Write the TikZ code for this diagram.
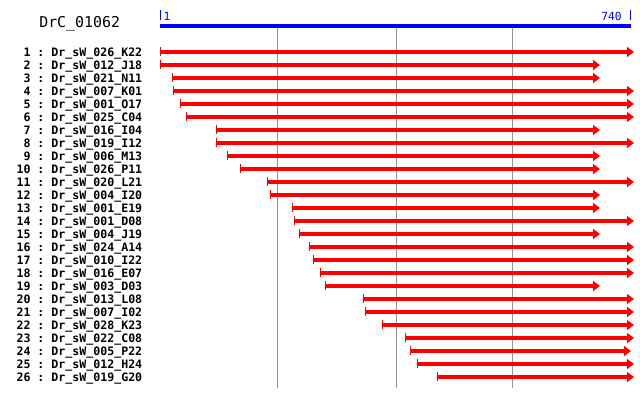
\documentclass[tikz,border=0pt]{standalone}
\usepackage{fontspec}
\setmonofont{DejaVu Sans Mono}
\usetikzlibrary{arrows.meta}

\begin{document}
\begin{tikzpicture}[x=0.75pt,y=-0.75pt,
		lbl/.style={anchor=base east,inner sep=0pt,font=\ttfamily\bfseries\fontsize{8.7pt}{9pt}\selectfont},
		ttl/.style={anchor=base west,inner sep=0pt,font=\ttfamily\fontsize{11.2pt}{12pt}\selectfont},
		scl/.style={anchor=base,inner sep=0pt,text=blue,font=\ttfamily\fontsize{8.4pt}{9pt}\selectfont},
		clone/.style={draw=red,line width=3pt,{Bar[width=6.75pt,line width=0.75pt]}-{Triangle[length=5.25pt,width=7.5pt]}},
		grid/.style={draw=black!42,line width=0.75pt}]
	\useasboundingbox (0,0) rectangle (640,398);
	%% define title and scale
	\node (title) at (39,28) [ttl] {DrC\_01062};
	\node (one) at (167,20.5) [scl] {1};
	\node (last) at (611.5,20.5) [scl] {740};
	\draw[blue,line width=0.75pt] (160.5,10) -- (160.5,20.5);
	\draw[blue,line width=0.75pt] (630.5,10) -- (630.5,20.5);
	\draw[blue,line width=3pt] (160,26.5) -- (631,26.5);
	%% grid lines
	\draw[grid] (277,28.5) -- (277,388);
	\draw[grid] (396,28.5) -- (396,388);
	\draw[grid] (512,28.5) -- (512,388);
	%% define labels
	\node (n1) at (142.5,56.5) [lbl] {1 : Dr\_sW\_026\_K22};
	\node (n2) at (142.5,69.5) [lbl] {2 : Dr\_sW\_012\_J18};
	\node (n3) at (142.5,82.5) [lbl] {3 : Dr\_sW\_021\_N11};
	\node (n4) at (142.5,95.5) [lbl] {4 : Dr\_sW\_007\_K01};
	\node (n5) at (142.5,108.5) [lbl] {5 : Dr\_sW\_001\_O17};
	\node (n6) at (142.5,121.5) [lbl] {6 : Dr\_sW\_025\_C04};
	\node (n7) at (142.5,134.5) [lbl] {7 : Dr\_sW\_016\_I04};
	\node (n8) at (142.5,147.5) [lbl] {8 : Dr\_sW\_019\_I12};
	\node (n9) at (142.5,160.5) [lbl] {9 : Dr\_sW\_006\_M13};
	\node (n10) at (142.5,173.5) [lbl] {10 : Dr\_sW\_026\_P11};
	\node (n11) at (142.5,186.5) [lbl] {11 : Dr\_sW\_020\_L21};
	\node (n12) at (142.5,199.5) [lbl] {12 : Dr\_sW\_004\_I20};
	\node (n13) at (142.5,212.5) [lbl] {13 : Dr\_sW\_001\_E19};
	\node (n14) at (142.5,225.5) [lbl] {14 : Dr\_sW\_001\_D08};
	\node (n15) at (142.5,238.5) [lbl] {15 : Dr\_sW\_004\_J19};
	\node (n16) at (142.5,251.5) [lbl] {16 : Dr\_sW\_024\_A14};
	\node (n17) at (142.5,264.5) [lbl] {17 : Dr\_sW\_010\_I22};
	\node (n18) at (142.5,277.5) [lbl] {18 : Dr\_sW\_016\_E07};
	\node (n19) at (142.5,290.5) [lbl] {19 : Dr\_sW\_003\_D03};
	\node (n20) at (142.5,303.5) [lbl] {20 : Dr\_sW\_013\_L08};
	\node (n21) at (142.5,316.5) [lbl] {21 : Dr\_sW\_007\_I02};
	\node (n22) at (142.5,329.5) [lbl] {22 : Dr\_sW\_028\_K23};
	\node (n23) at (142.5,342.5) [lbl] {23 : Dr\_sW\_022\_C08};
	\node (n24) at (142.5,355.5) [lbl] {24 : Dr\_sW\_005\_P22};
	\node (n25) at (142.5,368.5) [lbl] {25 : Dr\_sW\_012\_H24};
	\node (n26) at (142.5,381.5) [lbl] {26 : Dr\_sW\_019\_G20};
	%% define clones
	\draw[clone] (160,52) -- (634,52);
	\draw[clone] (160,65) -- (600,65);
	\draw[clone] (172,78) -- (600,78);
	\draw[clone] (173,91) -- (634,91);
	\draw[clone] (180,104) -- (634,104);
	\draw[clone] (186,117) -- (634,117);
	\draw[clone] (216,130) -- (600,130);
	\draw[clone] (216,143) -- (634,143);
	\draw[clone] (227,156) -- (600,156);
	\draw[clone] (240,169) -- (600,169);
	\draw[clone] (267,182) -- (634,182);
	\draw[clone] (270,195) -- (600,195);
	\draw[clone] (292,208) -- (600,208);
	\draw[clone] (294,221) -- (634,221);
	\draw[clone] (299,234) -- (600,234);
	\draw[clone] (309,247) -- (634,247);
	\draw[clone] (313,260) -- (634,260);
	\draw[clone] (320,273) -- (634,273);
	\draw[clone] (325,286) -- (600,286);
	\draw[clone] (363,299) -- (634,299);
	\draw[clone] (365,312) -- (634,312);
	\draw[clone] (382,325) -- (634,325);
	\draw[clone] (405,338) -- (634,338);
	\draw[clone] (410,351) -- (631,351);
	\draw[clone] (417,364) -- (634,364);
	\draw[clone] (437,377) -- (634,377);
\end{tikzpicture}
\end{document}
